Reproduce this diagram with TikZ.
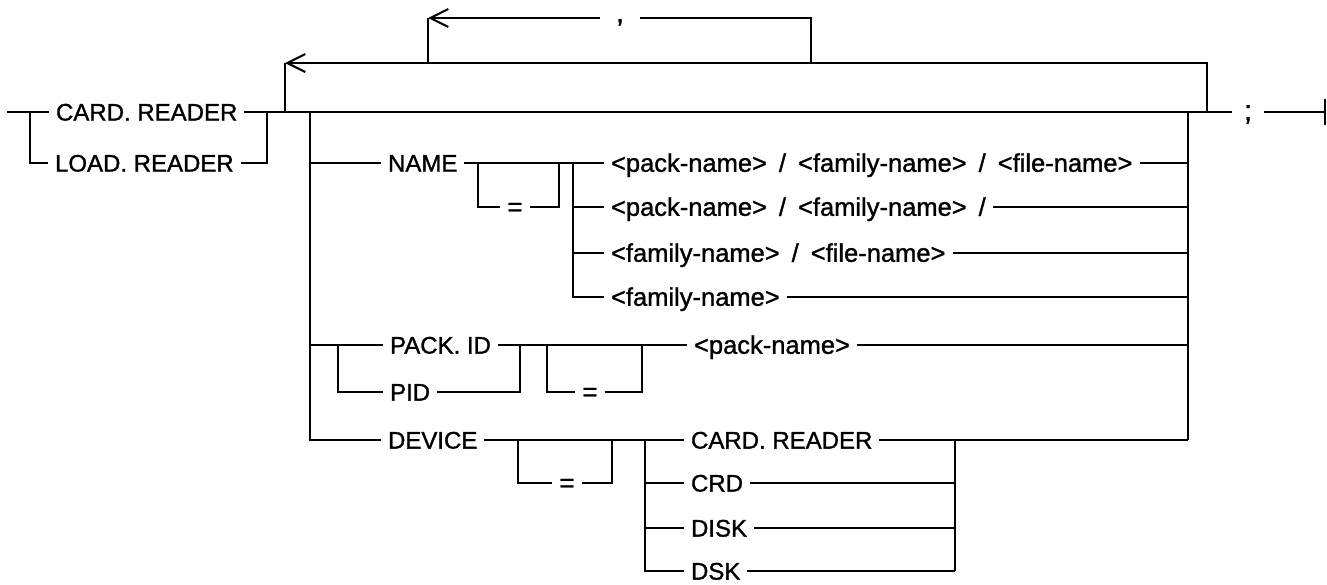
\documentclass[tikz,border=0pt]{standalone}
\usepackage{fontspec}
\setmainfont[FakeBold=1.2,AutoFakeBold=1.2]{Liberation Sans}
\usetikzlibrary{arrows.meta}
\newcommand\slsep{\hspace{12pt}/\hspace{12pt}}
\begin{document}
\begin{tikzpicture}[x=1pt,y=-1pt,line width=2.1pt,
  kw/.style={font=\fontsize{24}{28}\selectfont\bfseries, inner xsep=6pt, inner ysep=0pt, text height=17.2pt, text depth=0pt, anchor=west},
  lc/.style={font=\fontsize{25.5}{30}\selectfont\bfseries, inner xsep=6pt, inner ysep=0pt, text height=17.6pt, text depth=0pt, anchor=west},
  eqs/.style={font=\fontsize{26}{30}\selectfont\bfseries, inner xsep=6pt, inner ysep=0pt, text height=17.4pt, text depth=0pt},
  punct/.style={font=\fontsize{28}{32}\selectfont\bfseries, inner ysep=0pt, text height=0pt, text depth=0pt},
  back/.style={-{Straight Barb[length=18pt,width=18pt]}}]
\useasboundingbox (0,0) rectangle (1327,584);

% nodes
\node[kw] (cr) at (49,112) {CARD. READER};
\node[kw] (lr) at (48,163) {LOAD. READER};
\node[punct, inner xsep=11pt] (semi) at (1248,112) {\raisebox{-8pt}{;}};
\node[punct, inner xsep=15pt] (comma) at (620,18) {\raisebox{-4pt}{,}};

\node[kw] (name) at (381,163) {NAME};
\node[eqs] (eq1) at (515,207) {=};
\node[lc] (n1) at (604,163) {<pack-name>\slsep<family-name>\slsep<file-name>};
\node[lc] (n2) at (604,207) {<pack-name>\slsep<family-name>\hspace{12pt}/};
\node[lc] (n3) at (604,253) {<family-name>\slsep<file-name>};
\node[lc] (n4) at (604,297) {<family-name>};

\node[kw] (pack) at (383,345) {PACK. ID};
\node[kw] (pid) at (383,392) {PID};
\node[eqs] (eq2) at (590,392) {=};
\node[lc] (pk) at (687,345) {<pack-name>};

\node[kw] (dev) at (381,440) {DEVICE};
\node[eqs] (eq3) at (567,483) {=};
\node[kw] (d1) at (684,440) {CARD. READER};
\node[kw] (d2) at (684,483) {CRD};
\node[kw] (d3) at (684,528) {DISK};
\node[kw] (d4) at (684,571) {DSK};

% junction coordinates
\coordinate (st) at (7,112);
\coordinate (jl) at (30,112);
\coordinate (jr) at (267,112);
\coordinate (lp1) at (285,112);
\coordinate (lp1t) at (285,63);
\coordinate (lp1r) at (1207,112);
\coordinate (lp1rt) at (1207,63);
\coordinate (lp2l) at (428,63);
\coordinate (lp2lt) at (428,18);
\coordinate (lp2r) at (811,63);
\coordinate (lp2rt) at (811,18);
\coordinate (cl) at (310,112);
\coordinate (cr0) at (1188,112);
\coordinate (endb) at (1325,112);
\coordinate (e1l) at (478,163);
\coordinate (e1r) at (559,163);
\coordinate (v1) at (573,163);
\coordinate (ps) at (338,345);
\coordinate (pj) at (520,345);
\coordinate (e2l) at (547,345);
\coordinate (e2r) at (642,345);
\coordinate (e3l) at (518,440);
\coordinate (e3r) at (612,440);
\coordinate (dv) at (645,440);
\coordinate (iv) at (955,440);

% entry
\draw (st) -- (cr.west);
\draw (jl) |- (lr.west);
\draw (cr.east) -- (jr);
\draw (lr.east) -| (jr);
\draw (jr) -- (semi.west);
\draw (semi.east) -- (endb);
\draw ([yshift=13pt]endb) -- ([yshift=-13pt]endb);

% repeat loops
\draw[back] (lp1r) -- (lp1rt) -- (lp1t);
\draw (lp1t) -- (lp1);
\draw (lp2r) -- (lp2rt) -- (comma.east);
\draw[back] (comma.west) -- (lp2lt);
\draw (lp2lt) -- (lp2l);

% choice group
\draw (cl) |- (dev.west);
\draw (cl |- name.west) -- (name.west);
\draw (cl |- pack.west) -- (pack.west);
\draw (cr0) -- (cr0 |- d1.east);

% NAME
\draw (name.east) -- (n1.west);
\draw (e1l) |- (eq1.west);
\draw (eq1.east) -| (e1r);
\draw (v1) |- (n4.west);
\draw (v1 |- n2.west) -- (n2.west);
\draw (v1 |- n3.west) -- (n3.west);
\draw (n1.east) -- (cr0 |- n1.east);
\draw (n2.east) -- (cr0 |- n2.east);
\draw (n3.east) -- (cr0 |- n3.east);
\draw (n4.east) -- (cr0 |- n4.east);

% PACK.ID
\draw (ps) |- (pid.west);
\draw (pack.east) -- (pk.west);
\draw (pid.east) -| (pj);
\draw (e2l) |- (eq2.west);
\draw (eq2.east) -| (e2r);
\draw (pk.east) -- (cr0 |- pk.east);

% DEVICE
\draw (dev.east) -- (d1.west);
\draw (e3l) |- (eq3.west);
\draw (eq3.east) -| (e3r);
\draw (dv) |- (d4.west);
\draw (dv |- d2.west) -- (d2.west);
\draw (dv |- d3.west) -- (d3.west);
\draw (d1.east) -- (cr0 |- d1.east);
\draw (iv) -- (iv |- d4.east);
\draw (d2.east) -- (iv |- d2.east);
\draw (d3.east) -- (iv |- d3.east);
\draw (d4.east) -- (iv |- d4.east);
\end{tikzpicture}
\end{document}
